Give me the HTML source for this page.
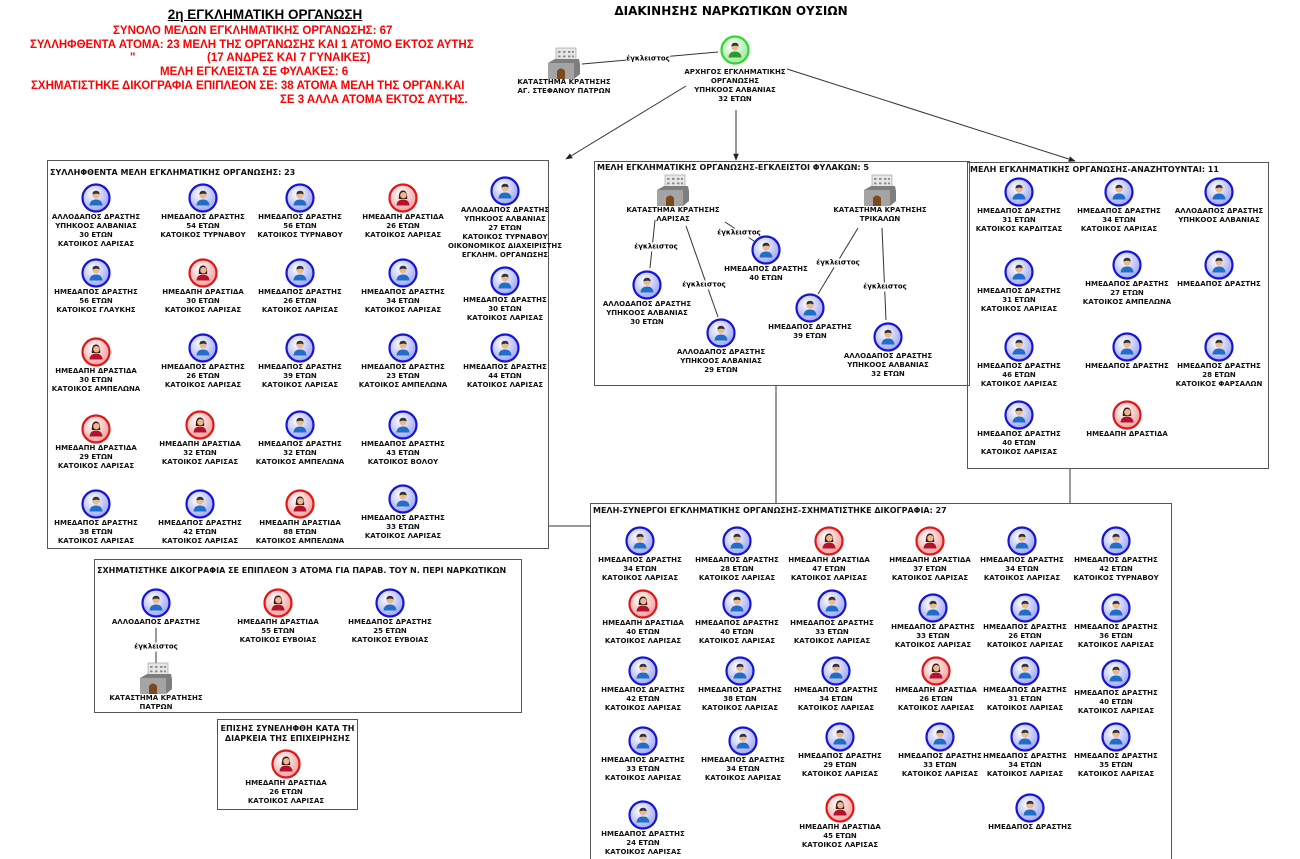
<!DOCTYPE html>
<html style="overflow:hidden;height:859px"><head><meta charset="utf-8"><style>
html,body{overflow:hidden}
body{margin:0;width:1300px;height:859px;background:#fff;position:relative;overflow:hidden;font-family:"DejaVu Sans","Liberation Sans",sans-serif;}
.n{position:absolute;width:140px;margin-left:-70px;text-align:center}
.i{width:30px;height:30px;display:block;margin:0 auto}
.n p,.t{margin:0;font:bold 7px/9px "DejaVu Sans",sans-serif;white-space:nowrap;color:#111}
.pr{width:34px;height:32px;display:block;margin:0 auto}
.box{position:absolute;border:1.5px solid #555;box-sizing:border-box}
.bt{position:absolute;font:bold 8px/10px "DejaVu Sans",sans-serif;white-space:nowrap;color:#111}
.r{position:absolute;color:#f00;font:bold 11.5px/13px "Liberation Sans",sans-serif;white-space:nowrap}
.lb{position:absolute;font:bold 7px/9px "DejaVu Sans",sans-serif;background:#fff;white-space:nowrap;transform:translate(-50%,-50%)}
</style></head><body>
<svg width="0" height="0" style="position:absolute">
<defs>
<radialGradient id="gb" cx="40%" cy="35%" r="70%"><stop offset="0" stop-color="#fff"/><stop offset="1" stop-color="#9aa0f0"/></radialGradient>
<radialGradient id="gr" cx="40%" cy="35%" r="70%"><stop offset="0" stop-color="#fff"/><stop offset="1" stop-color="#f29a9a"/></radialGradient>
<radialGradient id="gg" cx="40%" cy="35%" r="70%"><stop offset="0" stop-color="#fff"/><stop offset="1" stop-color="#9ae89a"/></radialGradient>
<symbol id="m" viewBox="0 0 30 30"><circle cx="15" cy="15" r="13.5" fill="url(#gb)" stroke="#1515d8" stroke-width="2.2"/><path d="M8.5 22.5 Q9 16.5 15 16.5 Q21 16.5 21.5 22.5 Z" fill="#1f6fc8"/><circle cx="15" cy="12" r="3.6" fill="#e9b98f"/><path d="M11.4 11.5 Q11.5 7.8 15 7.8 Q18.6 7.8 18.6 11.5 Q16 9.8 11.4 11.5Z" fill="#333"/></symbol>
<symbol id="f" viewBox="0 0 30 30"><circle cx="15" cy="15" r="13.5" fill="url(#gr)" stroke="#e31515" stroke-width="2.2"/><path d="M8.5 22.5 Q9 16.5 15 16.5 Q21 16.5 21.5 22.5 Z" fill="#b3122a"/><path d="M10.8 16 Q10.5 7.5 15 7.5 Q19.5 7.5 19.2 16Z" fill="#3a1c10"/><circle cx="15.4" cy="12.2" r="3.2" fill="#e9b98f"/></symbol>
<symbol id="g" viewBox="0 0 30 30"><circle cx="15" cy="15" r="13.5" fill="url(#gg)" stroke="#2ed82e" stroke-width="2.2"/><path d="M8.5 22.5 Q9 16.5 15 16.5 Q21 16.5 21.5 22.5 Z" fill="#2c9a2c"/><circle cx="15" cy="12" r="3.6" fill="#e9b98f"/><path d="M11.4 11.5 Q11.5 7.8 15 7.8 Q18.6 7.8 18.6 11.5 Q16 9.8 11.4 11.5Z" fill="#333"/></symbol>
<symbol id="p" viewBox="0 0 34 32"><rect x="9" y="1" width="20" height="19" fill="#e6e6e6" stroke="#999" stroke-width="0.6"/><g fill="#888"><rect x="11" y="4" width="2.5" height="1.8"/><rect x="16" y="4" width="2.5" height="1.8"/><rect x="21" y="4" width="2.5" height="1.8"/><rect x="25" y="4" width="2" height="1.8"/><rect x="11" y="8.5" width="2.5" height="1.8"/><rect x="16" y="8.5" width="2.5" height="1.8"/><rect x="21" y="8.5" width="2.5" height="1.8"/><rect x="25" y="8.5" width="2" height="1.8"/></g><path d="M1 16 L8 12 L32 12 L33 17 L33 27 L27 32 L1 32Z" fill="#7e7e7e"/><rect x="1" y="16" width="26" height="16" fill="#a4a4a4"/><path d="M10 32 L10 24 Q14 19 18 24 L18 32Z" fill="#7a4a1c"/></symbol>
<marker id="ar" viewBox="0 0 10 10" refX="9" refY="5" markerWidth="7" markerHeight="7" orient="auto"><path d="M0 1 L10 5 L0 9Z" fill="#222"/></marker>
</defs></svg>

<div class="box" style="left:47px;top:160px;width:502px;height:389px"></div>
<div class="box" style="left:594px;top:161px;width:376px;height:225px"></div>
<div class="box" style="left:967px;top:162px;width:302px;height:307px"></div>
<div class="box" style="left:590px;top:503px;width:582px;height:362px"></div>
<div class="box" style="left:94px;top:559px;width:428px;height:154px"></div>
<div class="box" style="left:217px;top:719px;width:141px;height:91px"></div>

<svg style="position:absolute;left:0;top:0" width="1300" height="859">
<g stroke="#333" stroke-width="1" fill="none">
<line x1="582" y1="64" x2="718" y2="52"/>
<line x1="686" y1="86" x2="566" y2="159" marker-end="url(#ar)"/>
<line x1="736" y1="110" x2="736" y2="160" marker-end="url(#ar)"/>
<line x1="787" y1="69" x2="1075" y2="161" marker-end="url(#ar)"/>
<line x1="776" y1="386" x2="776" y2="503"/>
<line x1="549" y1="526" x2="590" y2="526"/>
<line x1="1070" y1="469" x2="1070" y2="503"/>
<line x1="655" y1="220" x2="650" y2="268"/>
<line x1="686" y1="226" x2="718" y2="317"/>
<line x1="725" y1="222" x2="757" y2="243"/>
<line x1="858" y1="228" x2="818" y2="294"/>
<line x1="882" y1="228" x2="886" y2="320"/>
<line x1="156" y1="628" x2="156" y2="665"/>
</g></svg>
<div class="lb" style="left:648px;top:59px">έγκλειστος</div>
<div class="lb" style="left:656px;top:247px">έγκλειστος</div>
<div class="lb" style="left:704px;top:285px">έγκλειστος</div>
<div class="lb" style="left:739px;top:233px">έγκλειστος</div>
<div class="lb" style="left:838px;top:263px">έγκλειστος</div>
<div class="lb" style="left:885px;top:287px">έγκλειστος</div>
<div class="lb" style="left:156px;top:647px">έγκλειστος</div>

<div style="position:absolute;left:150px;top:7px;width:230px;text-align:center;font:bold 13.5px/16px 'Liberation Sans',sans-serif;text-decoration:underline">2η ΕΓΚΛΗΜΑΤΙΚΗ ΟΡΓΑΝΩΣΗ</div>
<div class="r" style="left:113px;top:25px">ΣΥΝΟΛΟ ΜΕΛΩΝ ΕΓΚΛΗΜΑΤΙΚΗΣ ΟΡΓΑΝΩΣΗΣ: 67</div>
<div class="r" style="left:30px;top:39px">ΣΥΛΛΗΦΘΕΝΤΑ ΑΤΟΜΑ: 23 ΜΕΛΗ ΤΗΣ ΟΡΓΑΝΩΣΗΣ ΚΑΙ 1 ΑΤΟΜΟ ΕΚΤΟΣ ΑΥΤΗΣ</div>
<div class="r" style="left:130px;top:52px">"</div>
<div class="r" style="left:207px;top:52px">(17 ΑΝΔΡΕΣ ΚΑΙ 7 ΓΥΝΑΙΚΕΣ)</div>
<div class="r" style="left:160px;top:66px">ΜΕΛΗ ΕΓΚΛΕΙΣΤΑ ΣΕ ΦΥΛΑΚΕΣ: 6</div>
<div class="r" style="left:31px;top:80px">ΣΧΗΜΑΤΙΣΤΗΚΕ ΔΙΚΟΓΡΑΦΙΑ ΕΠΙΠΛΕΟΝ ΣΕ: 38 ΑΤΟΜΑ ΜΕΛΗ ΤΗΣ ΟΡΓΑΝ.ΚΑΙ</div>
<div class="r" style="left:280px;top:94px">ΣΕ 3 ΑΛΛΑ ΑΤΟΜΑ ΕΚΤΟΣ ΑΥΤΗΣ.</div>
<div style="position:absolute;left:600px;top:3px;width:262px;text-align:center;font:bold 12px/16px 'DejaVu Sans',sans-serif">ΔΙΑΚΙΝΗΣΗΣ ΝΑΡΚΩΤΙΚΩΝ ΟΥΣΙΩΝ</div>

<div class="n" style="left:564px;top:47px"><svg class="pr"><use href="#p"/></svg><p style="margin-top:-1px">ΚΑΤΑΣΤΗΜΑ ΚΡΑΤΗΣΗΣ<br>ΑΓ. ΣΤΕΦΑΝΟΥ ΠΑΤΡΩΝ</p></div>
<div class="n" style="left:735px;top:35px"><svg class="i"><use href="#g"/></svg><p style="margin-top:3px">ΑΡΧΗΓΟΣ ΕΓΚΛΗΜΑΤΙΚΗΣ<br>ΟΡΓΑΝΩΣΗΣ<br>ΥΠΗΚΟΟΣ ΑΛΒΑΝΙΑΣ<br>32 ΕΤΩΝ</p></div>

<div class="bt" style="left:50px;top:168px">ΣΥΛΛΗΦΘΕΝΤΑ ΜΕΛΗ ΕΓΚΛΗΜΑΤΙΚΗΣ ΟΡΓΑΝΩΣΗΣ: 23</div>
<div class="bt" style="left:597px;top:163px">ΜΕΛΗ ΕΓΚΛΗΜΑΤΙΚΗΣ ΟΡΓΑΝΩΣΗΣ-ΕΓΚΛΕΙΣΤΟΙ ΦΥΛΑΚΩΝ: 5</div>
<div class="bt" style="left:970px;top:165px">ΜΕΛΗ ΕΓΚΛΗΜΑΤΙΚΗΣ ΟΡΓΑΝΩΣΗΣ-ΑΝΑΖΗΤΟΥΝΤΑΙ: 11</div>
<div class="bt" style="left:593px;top:506px">ΜΕΛΗ-ΣΥΝΕΡΓΟΙ ΕΓΚΛΗΜΑΤΙΚΗΣ ΟΡΓΑΝΩΣΗΣ-ΣΧΗΜΑΤΙΣΤΗΚΕ ΔΙΚΟΓΡΑΦΙΑ: 27</div>
<div class="bt" style="left:97px;top:566px">ΣΧΗΜΑΤΙΣΤΗΚΕ ΔΙΚΟΓΡΑΦΙΑ ΣΕ ΕΠΙΠΛΕΟΝ 3 ΑΤΟΜΑ ΓΙΑ ΠΑΡΑΒ. ΤΟΥ Ν. ΠΕΡΙ ΝΑΡΚΩΤΙΚΩΝ</div>
<div class="bt" style="left:217px;top:724px;width:141px;text-align:center">ΕΠΙΣΗΣ ΣΥΝΕΛΗΦΘΗ ΚΑΤΑ ΤΗ<br>ΔΙΑΡΚΕΙΑ ΤΗΣ ΕΠΙΧΕΙΡΗΣΗΣ</div>

<div class="n" style="left:96px;top:183px"><svg class="i"><use href="#m"/></svg><p>ΑΛΛΟΔΑΠΟΣ ΔΡΑΣΤΗΣ<br>ΥΠΗΚΟΟΣ ΑΛΒΑΝΙΑΣ<br>30 ΕΤΩΝ<br>ΚΑΤΟΙΚΟΣ ΛΑΡΙΣΑΣ</p></div>
<div class="n" style="left:203px;top:183px"><svg class="i"><use href="#m"/></svg><p>ΗΜΕΔΑΠΟΣ ΔΡΑΣΤΗΣ<br>54 ΕΤΩΝ<br>ΚΑΤΟΙΚΟΣ ΤΥΡΝΑΒΟΥ</p></div>
<div class="n" style="left:300px;top:183px"><svg class="i"><use href="#m"/></svg><p>ΗΜΕΔΑΠΟΣ ΔΡΑΣΤΗΣ<br>56 ΕΤΩΝ<br>ΚΑΤΟΙΚΟΣ ΤΥΡΝΑΒΟΥ</p></div>
<div class="n" style="left:403px;top:183px"><svg class="i"><use href="#f"/></svg><p>ΗΜΕΔΑΠΗ ΔΡΑΣΤΙΔΑ<br>26 ΕΤΩΝ<br>ΚΑΤΟΙΚΟΣ ΛΑΡΙΣΑΣ</p></div>
<div class="n" style="left:505px;top:176px"><svg class="i"><use href="#m"/></svg><p>ΑΛΛΟΔΑΠΟΣ ΔΡΑΣΤΗΣ<br>ΥΠΗΚΟΟΣ ΑΛΒΑΝΙΑΣ<br>27 ΕΤΩΝ<br>ΚΑΤΟΙΚΟΣ ΤΥΡΝΑΒΟΥ<br>ΟΙΚΟΝΟΜΙΚΟΣ ΔΙΑΧΕΙΡΙΣΤΗΣ<br>ΕΓΚΛΗΜ. ΟΡΓΑΝΩΣΗΣ</p></div>

<div class="n" style="left:96px;top:258px"><svg class="i"><use href="#m"/></svg><p>ΗΜΕΔΑΠΟΣ ΔΡΑΣΤΗΣ<br>56 ΕΤΩΝ<br>ΚΑΤΟΙΚΟΣ ΓΛΑΥΚΗΣ</p></div>
<div class="n" style="left:203px;top:258px"><svg class="i"><use href="#f"/></svg><p>ΗΜΕΔΑΠΗ ΔΡΑΣΤΙΔΑ<br>30 ΕΤΩΝ<br>ΚΑΤΟΙΚΟΣ ΛΑΡΙΣΑΣ</p></div>
<div class="n" style="left:300px;top:258px"><svg class="i"><use href="#m"/></svg><p>ΗΜΕΔΑΠΟΣ ΔΡΑΣΤΗΣ<br>26 ΕΤΩΝ<br>ΚΑΤΟΙΚΟΣ ΛΑΡΙΣΑΣ</p></div>
<div class="n" style="left:403px;top:258px"><svg class="i"><use href="#m"/></svg><p>ΗΜΕΔΑΠΟΣ ΔΡΑΣΤΗΣ<br>34 ΕΤΩΝ<br>ΚΑΤΟΙΚΟΣ ΛΑΡΙΣΑΣ</p></div>
<div class="n" style="left:505px;top:266px"><svg class="i"><use href="#m"/></svg><p>ΗΜΕΔΑΠΟΣ ΔΡΑΣΤΗΣ<br>30 ΕΤΩΝ<br>ΚΑΤΟΙΚΟΣ ΛΑΡΙΣΑΣ</p></div>

<div class="n" style="left:96px;top:337px"><svg class="i"><use href="#f"/></svg><p>ΗΜΕΔΑΠΗ ΔΡΑΣΤΙΔΑ<br>30 ΕΤΩΝ<br>ΚΑΤΟΙΚΟΣ ΑΜΠΕΛΩΝΑ</p></div>
<div class="n" style="left:203px;top:333px"><svg class="i"><use href="#m"/></svg><p>ΗΜΕΔΑΠΟΣ ΔΡΑΣΤΗΣ<br>26 ΕΤΩΝ<br>ΚΑΤΟΙΚΟΣ ΛΑΡΙΣΑΣ</p></div>
<div class="n" style="left:300px;top:333px"><svg class="i"><use href="#m"/></svg><p>ΗΜΕΔΑΠΟΣ ΔΡΑΣΤΗΣ<br>39 ΕΤΩΝ<br>ΚΑΤΟΙΚΟΣ ΛΑΡΙΣΑΣ</p></div>
<div class="n" style="left:403px;top:333px"><svg class="i"><use href="#m"/></svg><p>ΗΜΕΔΑΠΟΣ ΔΡΑΣΤΗΣ<br>23 ΕΤΩΝ<br>ΚΑΤΟΙΚΟΣ ΑΜΠΕΛΩΝΑ</p></div>
<div class="n" style="left:505px;top:333px"><svg class="i"><use href="#m"/></svg><p>ΗΜΕΔΑΠΟΣ ΔΡΑΣΤΗΣ<br>44 ΕΤΩΝ<br>ΚΑΤΟΙΚΟΣ ΛΑΡΙΣΑΣ</p></div>

<div class="n" style="left:96px;top:414px"><svg class="i"><use href="#f"/></svg><p>ΗΜΕΔΑΠΗ ΔΡΑΣΤΙΔΑ<br>29 ΕΤΩΝ<br>ΚΑΤΟΙΚΟΣ ΛΑΡΙΣΑΣ</p></div>
<div class="n" style="left:200px;top:410px"><svg class="i"><use href="#f"/></svg><p>ΗΜΕΔΑΠΗ ΔΡΑΣΤΙΔΑ<br>32 ΕΤΩΝ<br>ΚΑΤΟΙΚΟΣ ΛΑΡΙΣΑΣ</p></div>
<div class="n" style="left:300px;top:410px"><svg class="i"><use href="#m"/></svg><p>ΗΜΕΔΑΠΟΣ ΔΡΑΣΤΗΣ<br>32 ΕΤΩΝ<br>ΚΑΤΟΙΚΟΣ ΑΜΠΕΛΩΝΑ</p></div>
<div class="n" style="left:403px;top:410px"><svg class="i"><use href="#m"/></svg><p>ΗΜΕΔΑΠΟΣ ΔΡΑΣΤΗΣ<br>43 ΕΤΩΝ<br>ΚΑΤΟΙΚΟΣ ΒΟΛΟΥ</p></div>

<div class="n" style="left:96px;top:489px"><svg class="i"><use href="#m"/></svg><p>ΗΜΕΔΑΠΟΣ ΔΡΑΣΤΗΣ<br>38 ΕΤΩΝ<br>ΚΑΤΟΙΚΟΣ ΛΑΡΙΣΑΣ</p></div>
<div class="n" style="left:200px;top:489px"><svg class="i"><use href="#m"/></svg><p>ΗΜΕΔΑΠΟΣ ΔΡΑΣΤΗΣ<br>42 ΕΤΩΝ<br>ΚΑΤΟΙΚΟΣ ΛΑΡΙΣΑΣ</p></div>
<div class="n" style="left:300px;top:489px"><svg class="i"><use href="#f"/></svg><p>ΗΜΕΔΑΠΗ ΔΡΑΣΤΙΔΑ<br>88 ΕΤΩΝ<br>ΚΑΤΟΙΚΟΣ ΑΜΠΕΛΩΝΑ</p></div>
<div class="n" style="left:403px;top:484px"><svg class="i"><use href="#m"/></svg><p>ΗΜΕΔΑΠΟΣ ΔΡΑΣΤΗΣ<br>33 ΕΤΩΝ<br>ΚΑΤΟΙΚΟΣ ΛΑΡΙΣΑΣ</p></div>

<div class="n" style="left:673px;top:174px"><svg class="pr"><use href="#p"/></svg><p>ΚΑΤΑΣΤΗΜΑ ΚΡΑΤΗΣΗΣ<br>ΛΑΡΙΣΑΣ</p></div>
<div class="n" style="left:880px;top:174px"><svg class="pr"><use href="#p"/></svg><p>ΚΑΤΑΣΤΗΜΑ ΚΡΑΤΗΣΗΣ<br>ΤΡΙΚΑΛΩΝ</p></div>
<div class="n" style="left:647px;top:270px"><svg class="i"><use href="#m"/></svg><p>ΑΛΛΟΔΑΠΟΣ ΔΡΑΣΤΗΣ<br>ΥΠΗΚΟΟΣ ΑΛΒΑΝΙΑΣ<br>30 ΕΤΩΝ</p></div>
<div class="n" style="left:721px;top:318px"><svg class="i"><use href="#m"/></svg><p>ΑΛΛΟΔΑΠΟΣ ΔΡΑΣΤΗΣ<br>ΥΠΗΚΟΟΣ ΑΛΒΑΝΙΑΣ<br>29 ΕΤΩΝ</p></div>
<div class="n" style="left:766px;top:235px"><svg class="i"><use href="#m"/></svg><p>ΗΜΕΔΑΠΟΣ ΔΡΑΣΤΗΣ<br>40 ΕΤΩΝ</p></div>
<div class="n" style="left:810px;top:293px"><svg class="i"><use href="#m"/></svg><p>ΗΜΕΔΑΠΟΣ ΔΡΑΣΤΗΣ<br>39 ΕΤΩΝ</p></div>
<div class="n" style="left:888px;top:322px"><svg class="i"><use href="#m"/></svg><p>ΑΛΛΟΔΑΠΟΣ ΔΡΑΣΤΗΣ<br>ΥΠΗΚΟΟΣ ΑΛΒΑΝΙΑΣ<br>32 ΕΤΩΝ</p></div>

<div class="n" style="left:1019px;top:177px"><svg class="i"><use href="#m"/></svg><p>ΗΜΕΔΑΠΟΣ ΔΡΑΣΤΗΣ<br>31 ΕΤΩΝ<br>ΚΑΤΟΙΚΟΣ ΚΑΡΔΙΤΣΑΣ</p></div>
<div class="n" style="left:1119px;top:177px"><svg class="i"><use href="#m"/></svg><p>ΗΜΕΔΑΠΟΣ ΔΡΑΣΤΗΣ<br>34 ΕΤΩΝ<br>ΚΑΤΟΙΚΟΣ ΛΑΡΙΣΑΣ</p></div>
<div class="n" style="left:1219px;top:177px"><svg class="i"><use href="#m"/></svg><p>ΑΛΛΟΔΑΠΟΣ ΔΡΑΣΤΗΣ<br>ΥΠΗΚΟΟΣ ΑΛΒΑΝΙΑΣ</p></div>
<div class="n" style="left:1019px;top:257px"><svg class="i"><use href="#m"/></svg><p>ΗΜΕΔΑΠΟΣ ΔΡΑΣΤΗΣ<br>31 ΕΤΩΝ<br>ΚΑΤΟΙΚΟΣ ΛΑΡΙΣΑΣ</p></div>
<div class="n" style="left:1127px;top:250px"><svg class="i"><use href="#m"/></svg><p>ΗΜΕΔΑΠΟΣ ΔΡΑΣΤΗΣ<br>27 ΕΤΩΝ<br>ΚΑΤΟΙΚΟΣ ΑΜΠΕΛΩΝΑ</p></div>
<div class="n" style="left:1219px;top:250px"><svg class="i"><use href="#m"/></svg><p>ΗΜΕΔΑΠΟΣ ΔΡΑΣΤΗΣ</p></div>
<div class="n" style="left:1019px;top:332px"><svg class="i"><use href="#m"/></svg><p>ΗΜΕΔΑΠΟΣ ΔΡΑΣΤΗΣ<br>46 ΕΤΩΝ<br>ΚΑΤΟΙΚΟΣ ΛΑΡΙΣΑΣ</p></div>
<div class="n" style="left:1127px;top:332px"><svg class="i"><use href="#m"/></svg><p>ΗΜΕΔΑΠΟΣ ΔΡΑΣΤΗΣ</p></div>
<div class="n" style="left:1219px;top:332px"><svg class="i"><use href="#m"/></svg><p>ΗΜΕΔΑΠΟΣ ΔΡΑΣΤΗΣ<br>28 ΕΤΩΝ<br>ΚΑΤΟΙΚΟΣ ΦΑΡΣΑΛΩΝ</p></div>
<div class="n" style="left:1019px;top:400px"><svg class="i"><use href="#m"/></svg><p>ΗΜΕΔΑΠΟΣ ΔΡΑΣΤΗΣ<br>40 ΕΤΩΝ<br>ΚΑΤΟΙΚΟΣ ΛΑΡΙΣΑΣ</p></div>
<div class="n" style="left:1127px;top:400px"><svg class="i"><use href="#f"/></svg><p>ΗΜΕΔΑΠΗ ΔΡΑΣΤΙΔΑ</p></div>

<div class="n" style="left:640px;top:526px"><svg class="i"><use href="#m"/></svg><p>ΗΜΕΔΑΠΟΣ ΔΡΑΣΤΗΣ<br>34 ΕΤΩΝ<br>ΚΑΤΟΙΚΟΣ ΛΑΡΙΣΑΣ</p></div>
<div class="n" style="left:737px;top:526px"><svg class="i"><use href="#m"/></svg><p>ΗΜΕΔΑΠΟΣ ΔΡΑΣΤΗΣ<br>28 ΕΤΩΝ<br>ΚΑΤΟΙΚΟΣ ΛΑΡΙΣΑΣ</p></div>
<div class="n" style="left:829px;top:526px"><svg class="i"><use href="#f"/></svg><p>ΗΜΕΔΑΠΗ ΔΡΑΣΤΙΔΑ<br>47 ΕΤΩΝ<br>ΚΑΤΟΙΚΟΣ ΛΑΡΙΣΑΣ</p></div>
<div class="n" style="left:930px;top:526px"><svg class="i"><use href="#f"/></svg><p>ΗΜΕΔΑΠΗ ΔΡΑΣΤΙΔΑ<br>37 ΕΤΩΝ<br>ΚΑΤΟΙΚΟΣ ΛΑΡΙΣΑΣ</p></div>
<div class="n" style="left:1022px;top:526px"><svg class="i"><use href="#m"/></svg><p>ΗΜΕΔΑΠΟΣ ΔΡΑΣΤΗΣ<br>34 ΕΤΩΝ<br>ΚΑΤΟΙΚΟΣ ΛΑΡΙΣΑΣ</p></div>
<div class="n" style="left:1116px;top:526px"><svg class="i"><use href="#m"/></svg><p>ΗΜΕΔΑΠΟΣ ΔΡΑΣΤΗΣ<br>42 ΕΤΩΝ<br>ΚΑΤΟΙΚΟΣ ΤΥΡΝΑΒΟΥ</p></div>

<div class="n" style="left:643px;top:589px"><svg class="i"><use href="#f"/></svg><p>ΗΜΕΔΑΠΗ ΔΡΑΣΤΙΔΑ<br>40 ΕΤΩΝ<br>ΚΑΤΟΙΚΟΣ ΛΑΡΙΣΑΣ</p></div>
<div class="n" style="left:737px;top:589px"><svg class="i"><use href="#m"/></svg><p>ΗΜΕΔΑΠΟΣ ΔΡΑΣΤΗΣ<br>40 ΕΤΩΝ<br>ΚΑΤΟΙΚΟΣ ΛΑΡΙΣΑΣ</p></div>
<div class="n" style="left:832px;top:589px"><svg class="i"><use href="#m"/></svg><p>ΗΜΕΔΑΠΟΣ ΔΡΑΣΤΗΣ<br>33 ΕΤΩΝ<br>ΚΑΤΟΙΚΟΣ ΛΑΡΙΣΑΣ</p></div>
<div class="n" style="left:933px;top:593px"><svg class="i"><use href="#m"/></svg><p>ΗΜΕΔΑΠΟΣ ΔΡΑΣΤΗΣ<br>33 ΕΤΩΝ<br>ΚΑΤΟΙΚΟΣ ΛΑΡΙΣΑΣ</p></div>
<div class="n" style="left:1025px;top:593px"><svg class="i"><use href="#m"/></svg><p>ΗΜΕΔΑΠΟΣ ΔΡΑΣΤΗΣ<br>26 ΕΤΩΝ<br>ΚΑΤΟΙΚΟΣ ΛΑΡΙΣΑΣ</p></div>
<div class="n" style="left:1116px;top:593px"><svg class="i"><use href="#m"/></svg><p>ΗΜΕΔΑΠΟΣ ΔΡΑΣΤΗΣ<br>36 ΕΤΩΝ<br>ΚΑΤΟΙΚΟΣ ΛΑΡΙΣΑΣ</p></div>

<div class="n" style="left:643px;top:656px"><svg class="i"><use href="#m"/></svg><p>ΗΜΕΔΑΠΟΣ ΔΡΑΣΤΗΣ<br>42 ΕΤΩΝ<br>ΚΑΤΟΙΚΟΣ ΛΑΡΙΣΑΣ</p></div>
<div class="n" style="left:740px;top:656px"><svg class="i"><use href="#m"/></svg><p>ΗΜΕΔΑΠΟΣ ΔΡΑΣΤΗΣ<br>38 ΕΤΩΝ<br>ΚΑΤΟΙΚΟΣ ΛΑΡΙΣΑΣ</p></div>
<div class="n" style="left:836px;top:656px"><svg class="i"><use href="#m"/></svg><p>ΗΜΕΔΑΠΟΣ ΔΡΑΣΤΗΣ<br>34 ΕΤΩΝ<br>ΚΑΤΟΙΚΟΣ ΛΑΡΙΣΑΣ</p></div>
<div class="n" style="left:936px;top:656px"><svg class="i"><use href="#f"/></svg><p>ΗΜΕΔΑΠΗ ΔΡΑΣΤΙΔΑ<br>26 ΕΤΩΝ<br>ΚΑΤΟΙΚΟΣ ΛΑΡΙΣΑΣ</p></div>
<div class="n" style="left:1025px;top:656px"><svg class="i"><use href="#m"/></svg><p>ΗΜΕΔΑΠΟΣ ΔΡΑΣΤΗΣ<br>31 ΕΤΩΝ<br>ΚΑΤΟΙΚΟΣ ΛΑΡΙΣΑΣ</p></div>
<div class="n" style="left:1116px;top:659px"><svg class="i"><use href="#m"/></svg><p>ΗΜΕΔΑΠΟΣ ΔΡΑΣΤΗΣ<br>40 ΕΤΩΝ<br>ΚΑΤΟΙΚΟΣ ΛΑΡΙΣΑΣ</p></div>

<div class="n" style="left:643px;top:726px"><svg class="i"><use href="#m"/></svg><p>ΗΜΕΔΑΠΟΣ ΔΡΑΣΤΗΣ<br>33 ΕΤΩΝ<br>ΚΑΤΟΙΚΟΣ ΛΑΡΙΣΑΣ</p></div>
<div class="n" style="left:743px;top:726px"><svg class="i"><use href="#m"/></svg><p>ΗΜΕΔΑΠΟΣ ΔΡΑΣΤΗΣ<br>34 ΕΤΩΝ<br>ΚΑΤΟΙΚΟΣ ΛΑΡΙΣΑΣ</p></div>
<div class="n" style="left:840px;top:722px"><svg class="i"><use href="#m"/></svg><p>ΗΜΕΔΑΠΟΣ ΔΡΑΣΤΗΣ<br>29 ΕΤΩΝ<br>ΚΑΤΟΙΚΟΣ ΛΑΡΙΣΑΣ</p></div>
<div class="n" style="left:940px;top:722px"><svg class="i"><use href="#m"/></svg><p>ΗΜΕΔΑΠΟΣ ΔΡΑΣΤΗΣ<br>33 ΕΤΩΝ<br>ΚΑΤΟΙΚΟΣ ΛΑΡΙΣΑΣ</p></div>
<div class="n" style="left:1025px;top:722px"><svg class="i"><use href="#m"/></svg><p>ΗΜΕΔΑΠΟΣ ΔΡΑΣΤΗΣ<br>34 ΕΤΩΝ<br>ΚΑΤΟΙΚΟΣ ΛΑΡΙΣΑΣ</p></div>
<div class="n" style="left:1116px;top:722px"><svg class="i"><use href="#m"/></svg><p>ΗΜΕΔΑΠΟΣ ΔΡΑΣΤΗΣ<br>35 ΕΤΩΝ<br>ΚΑΤΟΙΚΟΣ ΛΑΡΙΣΑΣ</p></div>

<div class="n" style="left:643px;top:800px"><svg class="i"><use href="#m"/></svg><p>ΗΜΕΔΑΠΟΣ ΔΡΑΣΤΗΣ<br>24 ΕΤΩΝ<br>ΚΑΤΟΙΚΟΣ ΛΑΡΙΣΑΣ</p></div>
<div class="n" style="left:840px;top:793px"><svg class="i"><use href="#f"/></svg><p>ΗΜΕΔΑΠΗ ΔΡΑΣΤΙΔΑ<br>45 ΕΤΩΝ<br>ΚΑΤΟΙΚΟΣ ΛΑΡΙΣΑΣ</p></div>
<div class="n" style="left:1030px;top:793px"><svg class="i"><use href="#m"/></svg><p>ΗΜΕΔΑΠΟΣ ΔΡΑΣΤΗΣ</p></div>

<div class="n" style="left:156px;top:588px"><svg class="i"><use href="#m"/></svg><p>ΑΛΛΟΔΑΠΟΣ ΔΡΑΣΤΗΣ</p></div>
<div class="n" style="left:156px;top:662px"><svg class="pr"><use href="#p"/></svg><p>ΚΑΤΑΣΤΗΜΑ ΚΡΑΤΗΣΗΣ<br>ΠΑΤΡΩΝ</p></div>
<div class="n" style="left:278px;top:588px"><svg class="i"><use href="#f"/></svg><p>ΗΜΕΔΑΠΗ ΔΡΑΣΤΙΔΑ<br>55 ΕΤΩΝ<br>ΚΑΤΟΙΚΟΣ ΕΥΒΟΙΑΣ</p></div>
<div class="n" style="left:390px;top:588px"><svg class="i"><use href="#m"/></svg><p>ΗΜΕΔΑΠΟΣ ΔΡΑΣΤΗΣ<br>25 ΕΤΩΝ<br>ΚΑΤΟΙΚΟΣ ΕΥΒΟΙΑΣ</p></div>

<div class="n" style="left:286px;top:749px"><svg class="i"><use href="#f"/></svg><p>ΗΜΕΔΑΠΗ ΔΡΑΣΤΙΔΑ<br>26 ΕΤΩΝ<br>ΚΑΤΟΙΚΟΣ ΛΑΡΙΣΑΣ</p></div>
</body></html>
